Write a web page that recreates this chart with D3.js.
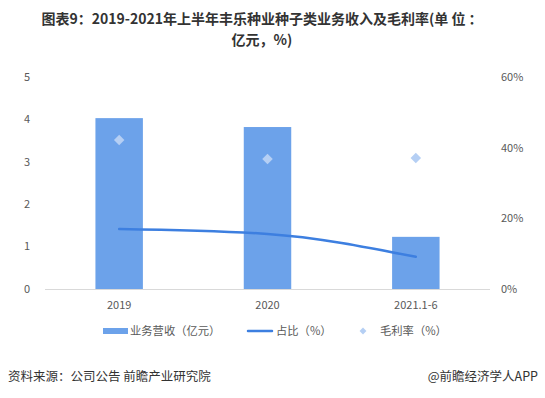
<!DOCTYPE html>
<html>
<head>
<meta charset="utf-8">
<script src="https://cdn.jsdelivr.net/npm/d3@7"></script>
<style>
  body { margin: 0; background: #fff; }
  text { font-family: "Microsoft YaHei", "Noto Sans CJK SC", sans-serif; }
</style>
</head>
<body>
<div id="chart"></div>
<script>
// data
const categories = ['2019', '2020', '2021.1-6'];
const revenue = [4.03, 3.82, 1.23];       // 业务营收（亿元）
const share = [17.0, 15.6, 9.1];          // 占比（%）
const margin = [42.2, 36.8, 37.1];        // 毛利率（%）
const leftTicks = [0, 1, 2, 3, 4, 5];
const rightTicks = [0, 20, 40, 60];

const width = 545, height = 398;
const plot = { left: 45, right: 490, top: 77, bottom: 289 };

const svg = d3.select('#chart').append('svg')
  .attr('width', width)
  .attr('height', height);

// title, two lines
svg.append('text')
  .attr('x', 262).attr('y', 24)
  .attr('text-anchor', 'middle')
  .style('font-size', '14px')
  .style('font-weight', 'bold')
  .style('fill', '#333')
  .text('图表9：2019-2021年上半年丰乐种业种子类业务收入及毛利率(单 位 ：');
svg.append('text')
  .attr('x', 262).attr('y', 45)
  .attr('text-anchor', 'middle')
  .style('font-size', '14px')
  .style('font-weight', 'bold')
  .style('fill', '#333')
  .text('亿元，%)');

const x = d3.scaleBand()
  .domain(categories)
  .range([plot.left, plot.right])
  .paddingInner(0.68)
  .paddingOuter(0.34);

const yL = d3.scaleLinear().domain([0, 5]).range([plot.bottom, plot.top]);
const yR = d3.scaleLinear().domain([0, 60]).range([plot.bottom, plot.top]);

// left axis labels
svg.append('g').selectAll('text')
  .data(leftTicks)
  .enter().append('text')
  .attr('x', 27)
  .attr('y', d => yL(d))
  .attr('dy', '0.35em')
  .attr('text-anchor', 'middle')
  .style('font-size', '11px')
  .style('fill', '#595959')
  .text(d => d);

// right axis labels
svg.append('g').selectAll('text')
  .data(rightTicks)
  .enter().append('text')
  .attr('x', 501)
  .attr('y', d => yR(d))
  .attr('dy', '0.35em')
  .attr('text-anchor', 'start')
  .style('font-size', '11px')
  .style('fill', '#595959')
  .text(d => d + '%');

// baseline
svg.append('line')
  .attr('x1', plot.left).attr('x2', plot.right)
  .attr('y1', plot.bottom + 0.5).attr('y2', plot.bottom + 0.5)
  .style('stroke', '#d9d9d9')
  .style('stroke-width', 1);

// bars
svg.append('g').selectAll('rect')
  .data(revenue)
  .enter().append('rect')
  .attr('x', (d, i) => x(categories[i]))
  .attr('width', x.bandwidth())
  .attr('y', d => yL(d))
  .attr('height', d => yL(0) - yL(d))
  .style('fill', '#6ca2ea');

// category labels
svg.append('g').selectAll('text')
  .data(categories)
  .enter().append('text')
  .attr('x', d => x(d) + x.bandwidth() / 2)
  .attr('y', 305)
  .attr('dy', '0.35em')
  .attr('text-anchor', 'middle')
  .style('font-size', '11px')
  .style('fill', '#595959')
  .text(d => d);

// share line
const line = d3.line()
  .x((d, i) => x(categories[i]) + x.bandwidth() / 2)
  .y(d => yR(d))
  .curve(d3.curveMonotoneX);

svg.append('path')
  .datum(share)
  .attr('d', line)
  .style('fill', 'none')
  .style('stroke', '#3d7fe0')
  .style('stroke-width', 2.5)
  .style('stroke-linecap', 'round');

// margin diamonds
const diamond = d3.symbol().type(d3.symbolDiamond2).size(70);
svg.append('g').selectAll('path')
  .data(margin)
  .enter().append('path')
  .attr('d', diamond)
  .attr('transform', (d, i) =>
    `translate(${x(categories[i]) + x.bandwidth() / 2},${yR(d)})`)
  .style('fill', '#b5cff4');

// legend
const legend = svg.append('g').attr('transform', 'translate(0,331)');
legend.append('rect')
  .attr('x', 103).attr('y', -3).attr('width', 25).attr('height', 6)
  .style('fill', '#6ca2ea');
legend.append('text')
  .attr('x', 130).attr('dy', '0.35em')
  .style('font-size', '11.3px').style('fill', '#595959')
  .text('业务营收（亿元）');
legend.append('line')
  .attr('x1', 248).attr('x2', 272)
  .style('stroke', '#3d7fe0').style('stroke-width', 2.5)
  .style('stroke-linecap', 'round');
legend.append('text')
  .attr('x', 276).attr('dy', '0.35em')
  .style('font-size', '11.3px').style('fill', '#595959')
  .text('占比（%）');
legend.append('path')
  .attr('d', d3.symbol().type(d3.symbolDiamond2).size(30))
  .attr('transform', 'translate(363,0)')
  .style('fill', '#b5cff4');
legend.append('text')
  .attr('x', 380).attr('dy', '0.35em')
  .style('font-size', '11.3px').style('fill', '#595959')
  .text('毛利率（%）');

// footer
svg.append('text')
  .attr('x', 8).attr('y', 381)
  .style('font-size', '12.5px').style('fill', '#333')
  .text('资料来源：公司公告 前瞻产业研究院');
svg.append('text')
  .attr('x', 538).attr('y', 381)
  .attr('text-anchor', 'end')
  .style('font-size', '12.5px').style('fill', '#333')
  .text('@前瞻经济学人APP');
</script>
</body>
</html>
